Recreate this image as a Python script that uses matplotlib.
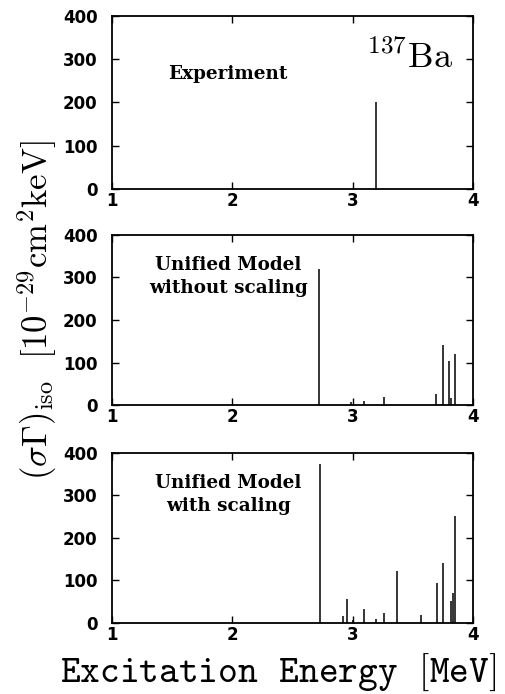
import matplotlib.pyplot as plt

# line spectra (energy in MeV, strength)
exp_E = [3.19]
exp_S = [200]

unscaled_E = [2.72, 2.99, 3.09, 3.26, 3.69, 3.75, 3.80, 3.82, 3.85]
unscaled_S = [320, 8, 10, 20, 26, 141, 103, 16, 120]

scaled_E = [2.73, 2.92, 2.95, 3.00, 3.09, 3.19, 3.26, 3.37, 3.57, 3.70, 3.75, 3.82, 3.83, 3.85]
scaled_S = [375, 16, 57, 8, 34, 9, 24, 123, 20, 93, 141, 51, 71, 252]

panel_labels = ["Experiment", "Unified Model\nwithout scaling", "Unified Model\nwith scaling"]
x_ticks = [1, 2, 3, 4]
y_ticks = [0, 100, 200, 300, 400]

plt.rcParams['mathtext.fontset'] = 'cm'

fig = plt.figure(figsize=(5.05, 6.94), dpi=100)
left, width = 0.2218, 0.7149
bottoms = [0.7277, 0.4164, 0.1023]
heights = [0.2493, 0.2450, 0.2450]
series = [(exp_E, exp_S), (unscaled_E, unscaled_S), (scaled_E, scaled_S)]

for i, ((E, S), lab) in enumerate(zip(series, panel_labels)):
    ax = fig.add_axes([left, bottoms[i], width, heights[i]])
    ax.vlines(E, 0, S, colors='black', lw=1.1)
    ax.set_xlim(1, 4)
    ax.set_ylim(0, 400)
    ax.set_xticks(x_ticks)
    ax.set_yticks(y_ticks)
    ax.tick_params(direction='in', top=True, right=True, length=5, width=1.0,
                   labelsize=12)
    ax.tick_params(axis='x', pad=2.5)
    ax.tick_params(axis='y', pad=10.5)
    for t in ax.get_xticklabels() + ax.get_yticklabels():
        t.set_fontweight('bold')
        t.set_family('DejaVu Sans')
    for sp in ax.spines.values():
        sp.set_linewidth(1.3)
    ax.text(1.965, 302 if i else 266, lab, ha='center', va='center',
            family='DejaVu Serif', fontweight='bold', fontsize=13.2, linespacing=1.4)
    if i == 0:
        ax.text(3.835, 280, r"$^{137}\mathrm{Ba}$", ha='right', va='baseline', fontsize=26)

fig.text(0.073, 0.553, r"$(\sigma\Gamma)_{\rm iso}\ \ [10^{-29}\mathrm{cm}^2\mathrm{keV}]$",
         rotation=90, ha='center', va='center', fontsize=25)
fig.text(0.55, 0.017, r"$\mathtt{Excitation}\ \ \mathtt{Energy}\ \ \mathtt{[MeV]}$",
         ha='center', va='baseline', fontsize=27)

fig.savefig("out.png", dpi=100)
